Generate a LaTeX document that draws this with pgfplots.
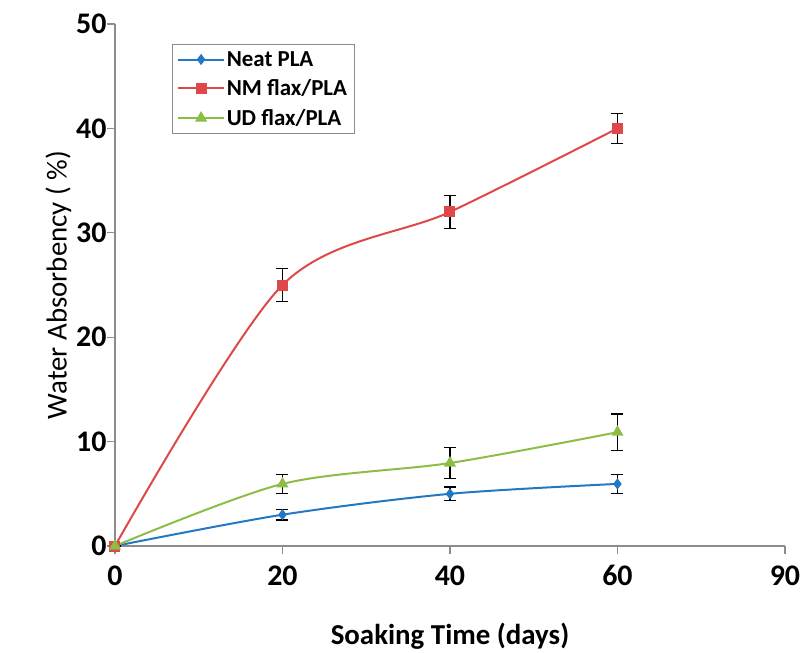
\documentclass[border=0pt]{standalone}
\usepackage{pgfplots}
\pgfplotsset{compat=1.18}
\usepackage{fontspec}
\setmainfont{Carlito}
\definecolor{cblue}{RGB}{35,120,195}
\definecolor{cred}{RGB}{222,72,72}
\definecolor{cgreen}{RGB}{140,190,70}
\definecolor{axgray}{RGB}{140,140,140}
\begin{document}
\begin{tikzpicture}[x=1bp,y=1bp]
\begin{axis}[
  scale only axis,
  width=670bp, height=522bp,
  xmin=0, xmax=80, ymin=0, ymax=50,
  xtick={0,20,40,60,80}, xticklabels={0,20,40,60,90},
  ytick={0,10,20,30,40,50},
  axis lines*=left,
  axis line style={axgray, line width=1.2pt, -},
  tick style={axgray, line width=1.2pt},
  tick align=outside,
  major tick length=8bp,
  clip=false,
  /pgf/number format/assume math mode=true,
  ticklabel style={font=\fontsize{30}{36}\selectfont\bfseries},
  xticklabel style={yshift=-8bp},
  yticklabel style={xshift=3bp},
  xlabel={\textbf{Soaking Time (days)}},
  ylabel={Water Absorbency ( \%)},
  label style={font=\fontsize{29}{34}\selectfont},
  xlabel style={yshift=-30bp},
  ylabel style={yshift=-2bp},
  legend style={at={(0.085,0.962)}, anchor=north west, draw=axgray, line width=1pt,
    font=\fontsize{23}{27}\selectfont\bfseries, cells={anchor=west}, row sep=8bp,
    inner xsep=5bp, inner ysep=5bp},
  legend image code/.code={\draw[#1, line width=2pt] (0cm,0cm) -- (1.6cm,0cm); \draw plot[#1, mark repeat=1] coordinates {(0.8cm,0cm)};},
  every axis plot/.append style={line width=2pt},
  error bars/error bar style={black, line width=1.2pt},
  error bars/error mark options={rotate=90, mark size=6bp, black, line width=1.2pt},
]
\path[draw=none] (rel axis cs:-0.1716,-0.1973) rectangle (rel axis cs:1.0284,1.046);
\addplot[cblue, smooth, mark=diamond*, mark size=4bp, mark options={fill=cblue,draw=cblue},
  error bars/.cd, y dir=both, y explicit]
  coordinates {(0,0) +- (0,0) (20,3.0) +- (0,0.5) (40,5.0) +- (0,0.65) (60,5.95) +- (0,0.9)};
\addlegendentry{Neat PLA}
\addplot[cred, smooth, mark=square*, mark size=4.5bp, mark options={fill=cred,draw=cred},
  error bars/.cd, y dir=both, y explicit]
  coordinates {(0,0) +- (0,0) (20,25.0) +- (0,1.6) (40,32.0) +- (0,1.6) (60,40.0) +- (0,1.45)};
\addlegendentry{NM flax/PLA}
\addplot[cgreen, smooth, mark=triangle*, mark size=5bp, mark options={fill=cgreen,draw=cgreen},
  error bars/.cd, y dir=both, y explicit]
  coordinates {(0,0) +- (0,0) (20,5.95) +- (0,0.9) (40,7.95) +- (0,1.45) (60,10.9) +- (0,1.75)};
\addlegendentry{UD flax/PLA}
\end{axis}
\end{tikzpicture}
\end{document}
